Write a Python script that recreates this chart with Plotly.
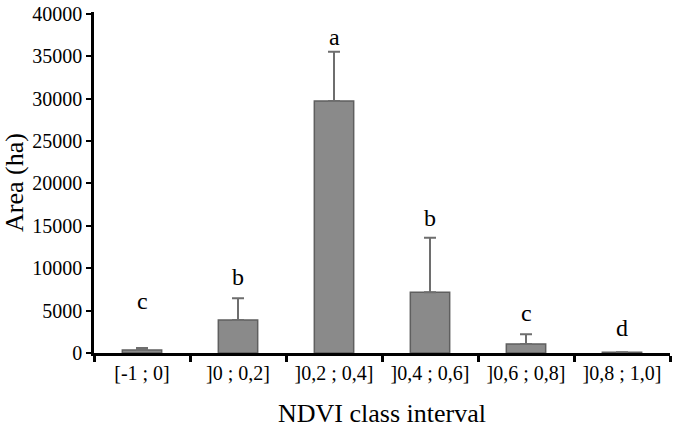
import plotly.graph_objects as go

categories = ["[-1 ; 0]", "]0 ; 0,2]", "]0,2 ; 0,4]", "]0,4 ; 0,6]", "]0,6 ; 0,8]", "]0,8 ; 1,0]"]
area = [350, 3900, 29700, 7150, 1050, 100]
err_plus = [250, 2550, 5800, 6450, 1150, 0]
letters = ["c", "b", "a", "b", "c", "d"]
letter_y = [6100, 9000, 37300, 15900, 4700, 2900]
y_ticks = [0, 5000, 10000, 15000, 20000, 25000, 30000, 35000, 40000]

FONT = "Liberation Serif"

fig = go.Figure()
fig.add_trace(go.Bar(
    x=categories, y=area,
    marker=dict(color="#8a8a8a", line=dict(color="#5f5f5f", width=1.5)),
    width=0.41,
    error_y=dict(type="data", symmetric=False, array=err_plus, arrayminus=[0]*6,
                 color="#6e6e6e", thickness=2, width=6),
))
for c, t, ly in zip(categories, letters, letter_y):
    fig.add_annotation(x=c, y=ly, text=t, showarrow=False,
                       font=dict(family=FONT, size=24, color="black"),
                       yanchor="middle")

fig.update_layout(
    width=675, height=439,
    margin=dict(l=94, r=5, t=12, b=86, autoexpand=False),
    paper_bgcolor="white", plot_bgcolor="white",
    showlegend=False,
    font=dict(family=FONT, color="black"),
    xaxis=dict(
        showline=True, linecolor="black", linewidth=2.5,
        ticks="outside", tickson="boundaries", ticklen=6, tickwidth=2.5, tickcolor="black",
        tickfont=dict(family=FONT, size=20),
        title=dict(text="NDVI class interval", font=dict(family=FONT, size=26), standoff=22),
        showgrid=False,
    ),
    yaxis=dict(
        range=[0, 40200], tickvals=y_ticks, tickformat="d",
        ticklabeloverflow="allow",
        showline=True, linecolor="black", linewidth=2.5,
        ticks="outside", ticklen=5, tickwidth=2, tickcolor="black",
        tickfont=dict(family=FONT, size=20),
        title=dict(text="Area (ha)", font=dict(family=FONT, size=26), standoff=2),
        showgrid=False, zeroline=False,
    ),
)
fig.write_html("out.html")
